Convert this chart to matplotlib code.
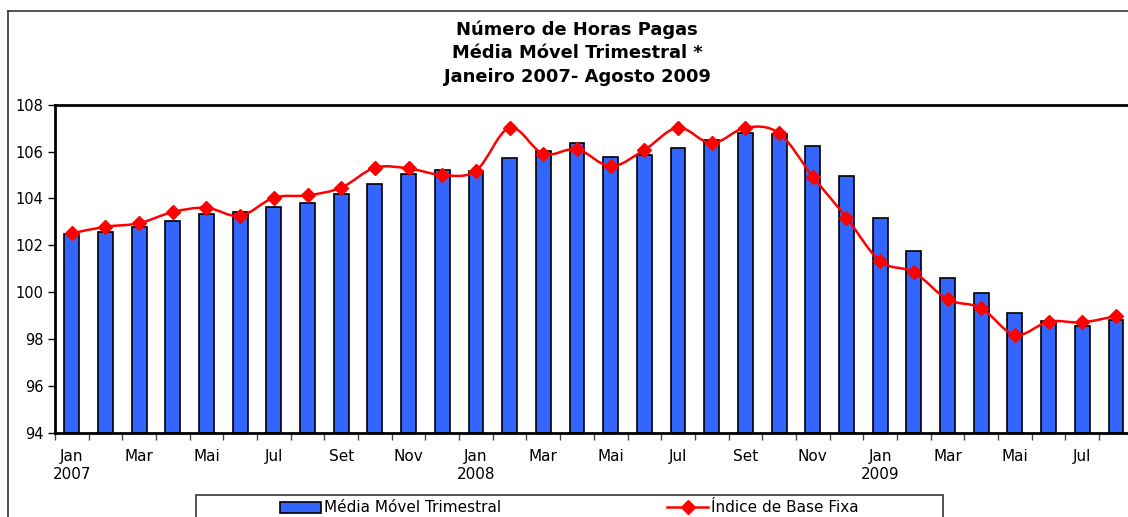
import matplotlib
matplotlib.use('Agg')
import matplotlib.pyplot as plt
from matplotlib.path import Path
from matplotlib.patches import PathPatch, Patch, Rectangle
from matplotlib.lines import Line2D
import numpy as np

# Dados (Jan 2007 - Ago 2009)
meses = ['Jan\n2007', '', 'Mar', '', 'Mai', '', 'Jul', '', 'Set', '', 'Nov', '',
         'Jan\n2008', '', 'Mar', '', 'Mai', '', 'Jul', '', 'Set', '', 'Nov', '',
         'Jan\n2009', '', 'Mar', '', 'Mai', '', 'Jul', '']
media_movel = [102.48, 102.55, 102.77, 103.05, 103.32, 103.43, 103.63, 103.80,
               104.20, 104.63, 105.03, 105.21, 105.18, 105.72, 106.04, 106.35,
               105.78, 105.87, 106.16, 106.49, 106.78, 106.74, 106.25, 104.96,
               103.15, 101.77, 100.62, 99.98, 99.10, 98.77, 98.54, 98.81]
indice_base = [102.51, 102.79, 102.94, 103.42, 103.60, 103.25, 104.03, 104.13,
               104.46, 105.31, 105.28, 105.00, 105.18, 107.02, 105.90, 106.10,
               105.37, 106.07, 107.02, 106.35, 107.02, 106.78, 104.93, 103.18,
               101.32, 100.85, 99.69, 99.32, 98.17, 98.74, 98.71, 98.98]

W, H = 1128, 517
fig = plt.figure(figsize=(W / 100, H / 100), dpi=100)

# moldura externa do gráfico
fig.add_artist(Line2D([8 / W, 1], [1 - 11 / H] * 2, color='#333333', lw=1.2,
                      transform=fig.transFigure))
fig.add_artist(Line2D([8 / W] * 2, [0, 1 - 11 / H], color='#333333', lw=1.2,
                      transform=fig.transFigure))

ax = fig.add_axes([54.9 / W, 84.3 / H, 1077.9 / W, 328 / H])
x = np.arange(len(media_movel))

ax.bar(x, np.array(media_movel) - 94, bottom=94, width=0.44, color='#3366FF',
       edgecolor='black', linewidth=1.2, zorder=2)

# linha suavizada (curvas de Bezier tipo Excel)
pts = np.column_stack([x, indice_base])
verts = [pts[0]]
codes = [Path.MOVETO]
n = len(pts)
for i in range(n - 1):
    p0 = pts[max(i - 1, 0)]
    p1 = pts[i]
    p2 = pts[i + 1]
    p3 = pts[min(i + 2, n - 1)]
    verts += [p1 + (p2 - p0) / 6, p2 - (p3 - p1) / 6, p2]
    codes += [Path.CURVE4] * 3
ax.add_patch(PathPatch(Path(verts, codes), facecolor='none', edgecolor='red',
                       lw=1.8, zorder=3))
ax.plot(x, indice_base, linestyle='none', marker='D', color='red', ms=7.5, zorder=4)

ax.set_xlim(-0.5, len(x) - 0.5)
ax.set_ylim(94, 108)
ax.set_yticks(np.arange(94, 109, 2))
ax.tick_params(axis='y', direction='out', length=5, width=1, labelsize=10.5, pad=3)

ax.set_xticks(np.arange(-0.5, len(x), 1))
ax.set_xticklabels([])
ax.tick_params(axis='x', which='major', direction='out', length=5, width=1, color='#444444')
ax.set_xticks(x, minor=True)
ax.set_xticklabels(meses, minor=True, fontsize=11, linespacing=1.25, va='top')
ax.tick_params(axis='x', which='minor', length=0, pad=12)

for s in ax.spines.values():
    s.set_linewidth(2)
    s.set_color('black')

# título
titulos = ['Número de Horas Pagas', 'Média Móvel Trimestral *', 'Janeiro 2007- Agosto 2009']
for t, yy in zip(titulos, [29.5, 53, 76.5]):
    fig.text(577 / W, 1 - yy / H, t, ha='center', va='center', fontsize=12.9,
             fontweight='bold')

# legenda
fig.add_artist(Rectangle((196 / W, -0.05), (943 - 196) / W, 0.05 + 1 - 494.5 / H,
                         facecolor='white', edgecolor='#333333', lw=1.2,
                         transform=fig.transFigure))
handles = [Patch(facecolor='#3366FF', edgecolor='black', linewidth=1.2),
           Line2D([], [], color='red', lw=1.8, marker='D', ms=7.5)]
leg = fig.legend(handles, ['Média Móvel Trimestral', 'Índice de Base Fixa'],
                 loc='center left', bbox_to_anchor=(280 / W, 1 - 508 / H),
                 ncol=2, frameon=False, fontsize=11, handlelength=2.7,
                 handletextpad=0.15, columnspacing=10.9, borderpad=0,
                 borderaxespad=0)

plt.savefig('out.png', dpi=100)
plt.close()
